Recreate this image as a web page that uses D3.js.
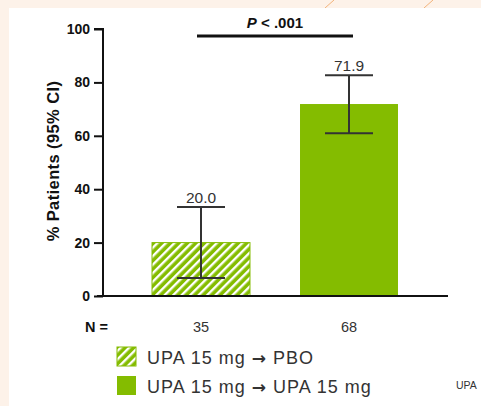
<!DOCTYPE html>
<html><head><meta charset="utf-8">
<script src="https://cdn.jsdelivr.net/npm/d3@7"></script>
<style>html,body{margin:0;padding:0;background:#fdf2e9;}svg{display:block;}</style>
</head><body>
<svg id="c" width="481" height="406"></svg>
<script>
const categories = ["UPA 15 mg \u2192 PBO", "UPA 15 mg \u2192 UPA 15 mg"];
const values = [20.0, 71.9];
const ciLow = [6.7, 61.0];
const ciHigh = [33.3, 82.7];
const nValues = ["35", "68"];
const yTicks = [0, 20, 40, 60, 80, 100];
const pLabel = "P < .001";

const FONT = "Liberation Sans, Arial, sans-serif";
const svg = d3.select("#c");
svg.append("rect").attr("x",0).attr("y",0).attr("width",481).attr("height",406).attr("fill","#fdf2e9");
[[325,8,334,0],[424,8,433,0]].forEach(d=>svg.append("line").attr("x1",d[0]).attr("y1",d[1]).attr("x2",d[2]).attr("y2",d[3]).attr("stroke","#f2b27a").attr("stroke-width",1));
svg.append("rect").attr("x",9).attr("y",8).attr("width",472).attr("height",398).attr("fill","#ffffff");

const defs = svg.append("defs");
const pat = defs.append("pattern").attr("id","hatch").attr("patternUnits","userSpaceOnUse")
  .attr("width",6).attr("height",6).attr("patternTransform","rotate(45)");
pat.append("rect").attr("width",6).attr("height",6).attr("fill","#84bc00");
pat.append("rect").attr("x",0).attr("width",2.4).attr("height",6).attr("fill","#ffffff");

const green = "#84bc00";
const y = d3.scaleLinear().domain([0,100]).range([296,29]);
const x = d3.scaleBand().domain(categories).range([127,423]).paddingInner(0.338).paddingOuter(0.169);

const bars = svg.append("g");
categories.forEach((c,i)=>{
  bars.append("rect").attr("x",x(c)).attr("y",y(values[i])).attr("width",x.bandwidth())
    .attr("height",y(0)-y(values[i])).attr("fill", i===0?"url(#hatch)":green)
    .attr("stroke", i===0?green:"none").attr("stroke-width",1);
});

const eb = svg.append("g").attr("stroke","#333").attr("stroke-width",2);
categories.forEach((c,i)=>{
  const cx = x(c)+x.bandwidth()/2;
  eb.append("line").attr("x1",cx).attr("x2",cx).attr("y1",y(ciLow[i])).attr("y2",y(ciHigh[i]));
  eb.append("line").attr("x1",cx-24).attr("x2",cx+24).attr("y1",y(ciLow[i])).attr("y2",y(ciLow[i]));
  eb.append("line").attr("x1",cx-24).attr("x2",cx+24).attr("y1",y(ciHigh[i])).attr("y2",y(ciHigh[i]));
  svg.append("text").attr("x",cx).attr("y",y(ciHigh[i])-4.5).attr("text-anchor","middle")
    .attr("font-family",FONT).attr("font-size",15.5).attr("fill","#333")
    .text(values[i].toFixed(1));
  svg.append("text").attr("x",cx).attr("y",332).attr("text-anchor","middle")
    .attr("font-family",FONT).attr("font-size",14.5).attr("fill","#333")
    .text(nValues[i]);
});

const ax = svg.append("g").attr("transform","translate(103,0)")
  .call(d3.axisLeft(y).tickValues(yTicks).tickSize(9).tickPadding(4));
ax.select(".domain").attr("stroke","#111").attr("stroke-width",2).attr("d","M-9,"+y(100)+"H0V"+y(0));
ax.selectAll(".tick line").attr("stroke","#111").attr("stroke-width",2);
ax.selectAll(".tick text").attr("font-family",FONT).attr("font-size",14)
  .attr("font-weight","bold").attr("fill","#111");

svg.append("line").attr("x1",97).attr("x2",448).attr("y1",y(0)).attr("y2",y(0)).attr("stroke","#111").attr("stroke-width",2.2);

svg.append("text").attr("transform","translate(58.5,161) rotate(-90)").attr("text-anchor","middle")
  .attr("font-family",FONT).attr("font-size",16.5).attr("font-weight","bold").attr("fill","#111")
  .attr("letter-spacing",0.4)
  .text("% Patients (95% CI)");

svg.append("text").attr("x",85).attr("y",332).attr("font-family",FONT)
  .attr("font-size",14.5).attr("font-weight","bold").attr("fill","#111").text("N =");

const c1 = x(categories[0])+x.bandwidth()/2, c2 = x(categories[1])+x.bandwidth()/2;
svg.append("line").attr("x1",c1-4).attr("x2",c2+4).attr("y1",36).attr("y2",36).attr("stroke","#111").attr("stroke-width",3);
const pt = svg.append("text").attr("x",(c1+c2)/2).attr("y",28).attr("text-anchor","middle")
  .attr("font-family",FONT).attr("font-size",15).attr("font-weight","bold").attr("fill","#111");
pt.append("tspan").attr("font-style","italic").text(pLabel.slice(0,1));
pt.append("tspan").text(pLabel.slice(1));

const lg = svg.append("g");
categories.forEach((c,i)=>{
  const ly = 347 + i*29;
  lg.append("rect").attr("x",117).attr("y",ly).attr("width",19).attr("height",19)
    .attr("fill", i===0?"url(#hatch)":green).attr("stroke", i===0?green:"none");
  const t = lg.append("text").attr("x",147).attr("y",ly+16.5).attr("font-family",FONT)
    .attr("font-size",18).attr("letter-spacing",1).attr("fill","#333");
  const parts = c.split("\u2192");
  t.append("tspan").text(parts[0]);
  t.append("tspan").attr("font-family","DejaVu Sans").attr("font-weight","bold").attr("font-size",17).text("\u2192");
  t.append("tspan").text(parts[1]);
});
svg.append("text").attr("x",456).attr("y",389).attr("font-family",FONT)
  .attr("font-size",10.5).attr("fill","#333").text("UPA");
</script>
</body></html>
